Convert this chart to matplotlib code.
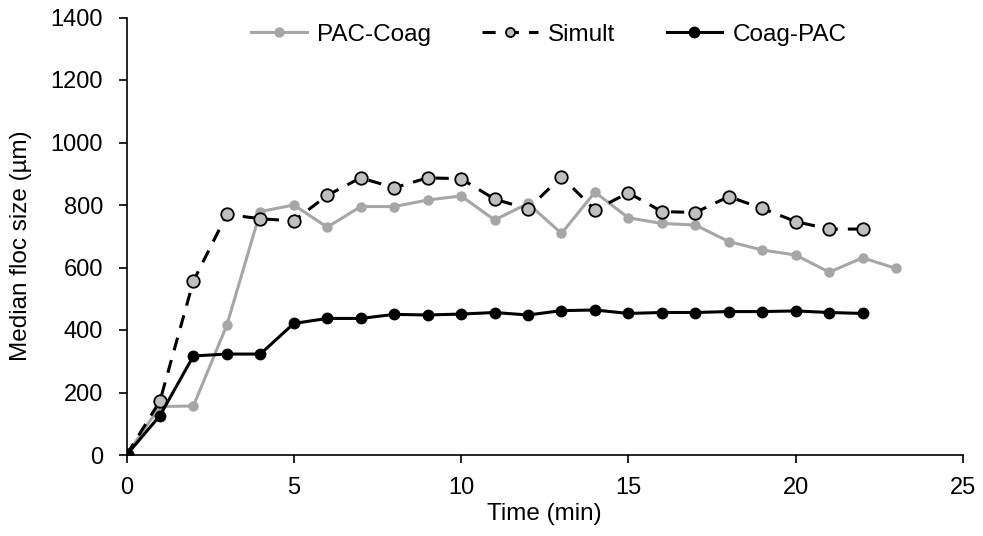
import matplotlib
matplotlib.use("Agg")
import matplotlib.pyplot as plt

plt.rcParams['font.family'] = ['Liberation Sans', 'DejaVu Sans']

time_pac = list(range(24))
pac_coag = [0, 155, 157, 416, 779, 800, 729, 795, 795, 816, 829, 752, 805, 709, 841, 759, 741, 736, 683, 656, 640, 585, 631, 597]
time_sim = list(range(23))
simult = [0, 173, 557, 770, 756, 749, 831, 887, 855, 887, 884, 819, 787, 891, 784, 839, 779, 776, 827, 789, 747, 723, 723]
time_coag = list(range(23))
coag_pac = [0, 126, 317, 323, 323, 421, 437, 437, 450, 448, 451, 456, 448, 462, 464, 453, 456, 456, 459, 459, 461, 456, 453]

fig = plt.figure(figsize=(9.83, 5.36), dpi=100)
ax = fig.add_axes([126.5 / 983, (536 - 455) / 536, (963 - 126.5) / 983, (455 - 17.5) / 536])

ax.plot(time_pac, pac_coag, color='#a6a6a6', lw=2.2, marker='o', ms=6.5, mfc='#a6a6a6', mec='#a6a6a6',
        label='PAC-Coag', zorder=2)
ax.plot(time_sim, simult, color='black', lw=2.2, ls=(0, (4.3, 3.3)), marker='o', ms=9, mfc='#bfbfbf',
        mec='black', mew=1.3, label='Simult', zorder=3)
ax.plot(time_coag, coag_pac, color='black', lw=2.2, marker='o', ms=7.5, mfc='black', mec='black',
        label='Coag-PAC', zorder=4)

ax.set_xlim(0, 25)
ax.set_ylim(0, 1400)
ax.set_xticks(range(0, 26, 5))
ax.set_yticks(range(0, 1401, 200))
ax.spines['top'].set_visible(False)
ax.spines['right'].set_visible(False)
for s in ['left', 'bottom']:
    ax.spines[s].set_linewidth(1.2)
ax.tick_params(axis='y', direction='out', length=5.5, width=1.2, labelsize=17, pad=11.5)
ax.tick_params(axis='x', direction='out', length=5.5, width=1.2, labelsize=17, pad=10)
ax.set_xlabel('Time (min)', fontsize=17.5)
ax.set_ylabel('Median floc size (µm)', fontsize=17.5)
ax.xaxis.set_label_coords(0.5, -0.11)
ax.yaxis.set_label_coords(-0.113, 0.478)

leg = ax.legend(loc='center', bbox_to_anchor=(0.505, 0.96), ncol=3, frameon=False, fontsize=17.5,
                handlelength=2.3, columnspacing=2.1, handletextpad=0.41, borderpad=0)
leg.legend_handles[1].set_markersize(6.5)

fig.savefig('out.png', dpi=100)
